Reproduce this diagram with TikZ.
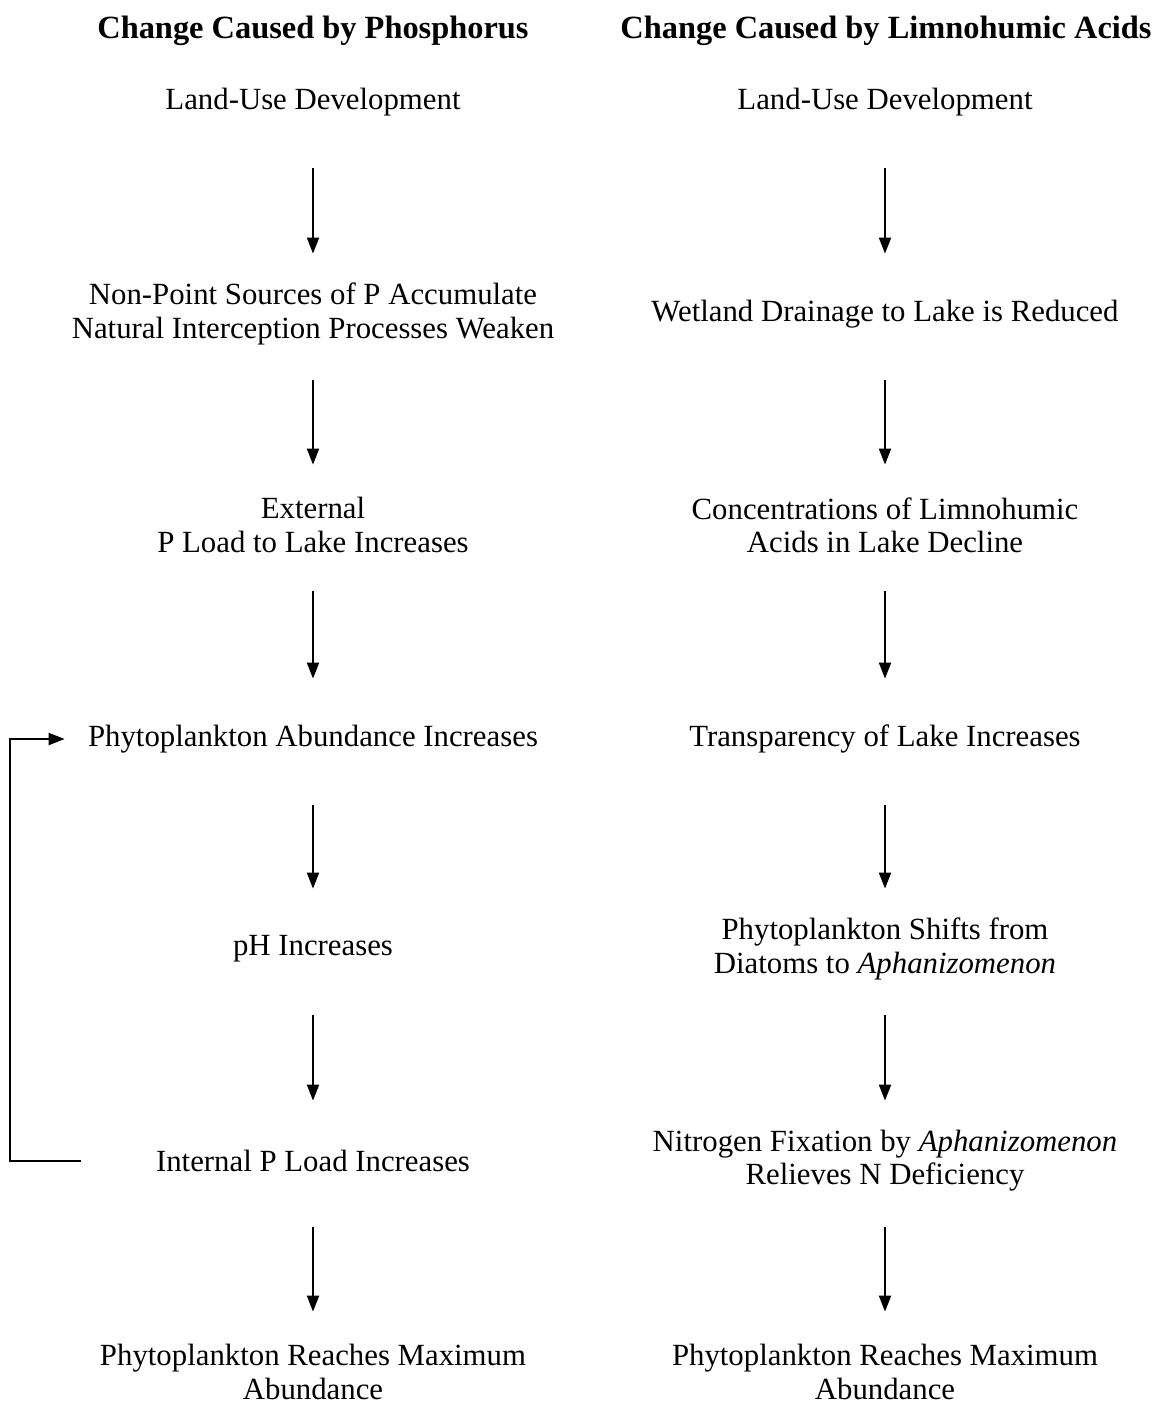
\documentclass[tikz,border=0pt]{standalone}
\usepackage{fontspec}
\setmainfont{Liberation Serif}
\usetikzlibrary{arrows.meta}
\begin{document}
\begin{tikzpicture}[x=0.5pt, y=-0.5pt,
  txt/.style={align=center, inner xsep=0pt, minimum height=60pt, yshift=-1pt, font=\fontsize{15.4}{16.6}\selectfont},
  ttl/.style={align=center, inner sep=0pt, yshift=-1.5pt, font=\fontsize{16.2}{17}\selectfont\bfseries},
  flow/.style={-{Triangle[length=8pt, width=6pt]}, line width=1pt, shorten <=3pt}]
\useasboundingbox (0,0) rectangle (1162,1403);

% Titles
\node[ttl] (tp) at (313,28) {Change Caused by Phosphorus};
\node[ttl] (tl) at (886,28) {Change Caused by Limnohumic Acids};

% Phosphorus column
\node[txt] (p1) at (313,100) {Land-Use Development};
\node[txt] (p2) at (313,312) {Non-Point Sources of P Accumulate\\Natural Interception Processes Weaken};
\node[txt] (p3) at (313,523) {External\\P Load to Lake Increases};
\node[txt] (p4) at (313,737) {Phytoplankton Abundance Increases};
\node[txt] (p5) at (313,947) {pH Increases};
\node[txt] (p6) at (313,1159) {Internal P Load Increases};
\node[txt] (p7) at (313,1370) {Phytoplankton Reaches Maximum\\Abundance};

% Limnohumic acids column
\node[txt] (l1) at (885,100) {Land-Use Development};
\node[txt] (l2) at (885,312) {Wetland Drainage to Lake is Reduced};
\node[txt] (l3) at (885,523) {Concentrations of Limnohumic\\Acids in Lake Decline};
\node[txt] (l4) at (885,737) {Transparency of Lake Increases};
\node[txt] (l5) at (885,947) {Phytoplankton Shifts from\\Diatoms to \textit{Aphanizomenon}};
\node[txt] (l6) at (885,1159) {Nitrogen Fixation by \textit{Aphanizomenon}\\Relieves N Deficiency};
\node[txt] (l7) at (885,1370) {Phytoplankton Reaches Maximum\\Abundance};

% Arrows down each column
\foreach \a/\b in {1/2,2/3,3/4,4/5,5/6,6/7} {
  \draw[flow] (p\a.south) -- (p\b.north);
  \draw[flow] (l\a.south) -- (l\b.north);
}

% Feedback loop
\coordinate (fb) at ([xshift=-37.5pt]p6.west);
\coordinate (lx) at (10,0);
\draw[-{Triangle[length=8pt, width=6pt]}, line width=1pt]
  (fb) -- (fb -| lx) |- ([xshift=-11.5pt]p4.west);
\end{tikzpicture}
\end{document}
